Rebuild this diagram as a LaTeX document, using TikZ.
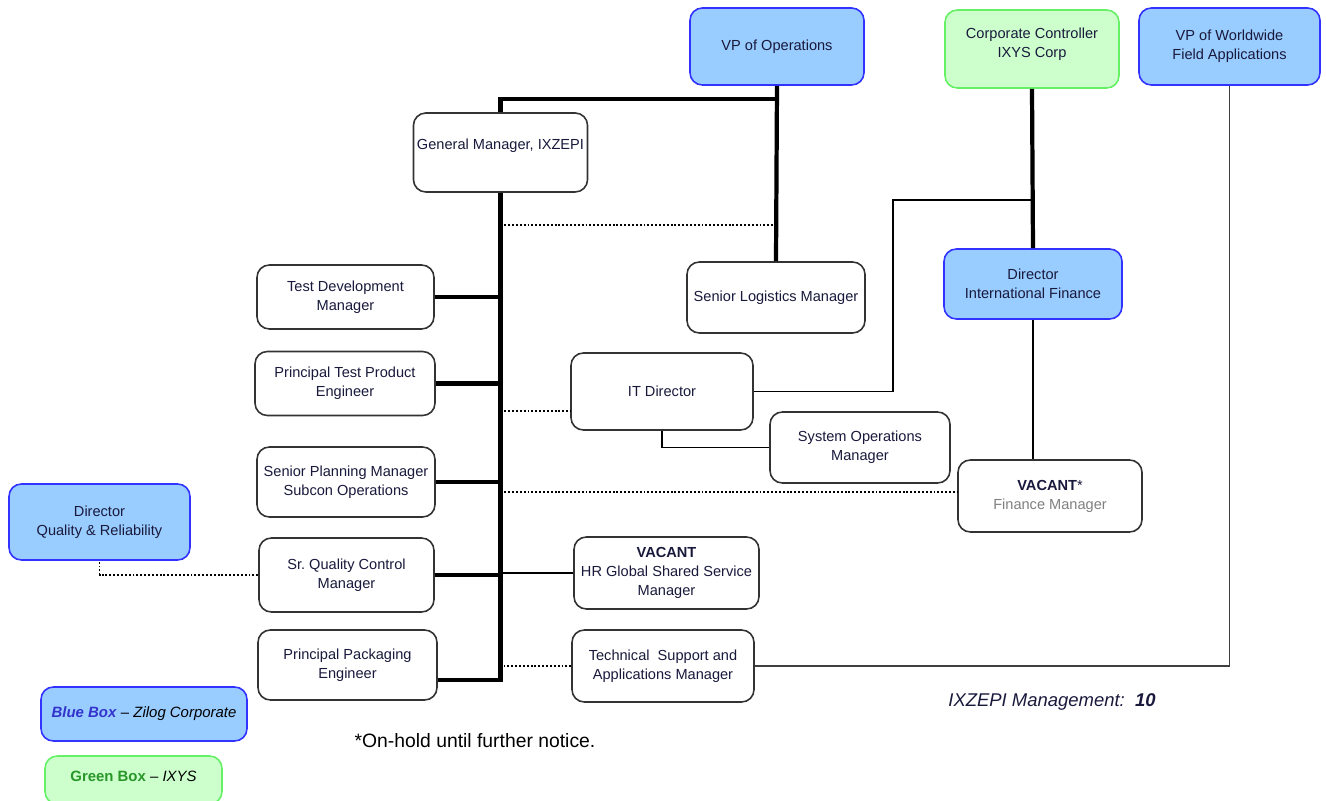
\documentclass[tikz,border=0pt]{standalone}
\usepackage{fontspec}
\setmainfont{Liberation Sans}
\usetikzlibrary{positioning}

\definecolor{zilogblue}{RGB}{153,204,255}
\definecolor{zilogedge}{RGB}{51,51,255}
\definecolor{ixysgreen}{RGB}{204,255,204}
\definecolor{ixysedge}{RGB}{102,240,102}
\definecolor{ink}{RGB}{25,25,60}
\definecolor{legendblue}{RGB}{51,51,204}
\definecolor{legendgreen}{RGB}{40,150,40}

\begin{document}
\begin{tikzpicture}[
    x=0.2mm,
    y=-0.2mm,
    font=\fontsize{8.3}{10.8}\selectfont,
    post/.style={draw=black!80, line width=0.9pt, rounded corners=7pt,
                 fill=white, align=center, text=ink, inner sep=2pt},
    zilog/.style={post, draw=zilogedge, fill=zilogblue},
    ixys/.style={post, draw=ixysedge, fill=ixysgreen},
    size/.style 2 args={minimum width=#1*0.2mm, minimum height=#2*0.2mm},
    reportline/.style={line width=2.4pt},
    midline/.style={line width=1.5pt},
    thinline/.style={line width=1.1pt},
    hairline/.style={line width=0.85pt, black!75},
    dotline/.style={line width=1.1pt, dash pattern=on 1.1pt off 1.1pt},
]
    \useasboundingbox (0,0) rectangle (1326,801);

    \node[zilog, size={174}{77}] (vpops) at (777,46.5)   {VP of Operations};
    \node[ixys,  size={174}{78}] (ctrl)  at (1032,49)    {Corporate Controller\\IXYS Corp\\[-4pt]\mbox{}};
    \node[zilog, size={181}{77}] (vpww)  at (1229.5,46.5) {VP of Worldwide\\Field Applications};

    \node[post, size={173}{79}, text depth=9pt] (gm) at (500.5,152.5) {General Manager, IXZEPI};

    \node[post, size={177}{64}] (tdm)  at (345.5,297)   {Test Development\\Manager};
    \node[post, size={180}{64}] (ptpe) at (345,383.5)   {Principal Test Product\\Engineer};
    \node[post, size={178}{70}] (spm)  at (346,482)     {Senior Planning Manager\\Subcon Operations};
    \node[post, size={175}{74}] (sqcm) at (346.5,575)   {Sr.\ Quality Control\\Manager};
    \node[post, size={179}{70}] (ppe)  at (347.5,665)   {Principal Packaging\\Engineer};

    \node[zilog, size={181}{76}] (dqr) at (99.5,522)    {Director\\Quality \& Reliability};

    \node[post, size={178}{71}] (slm)  at (776,297.5)   {Senior Logistics Manager};
    \node[post, size={182}{77}] (itd)  at (662,391.5)   {IT Director};
    \node[post, size={180}{71}] (som)  at (860,447.5)   {System Operations\\Manager};
    \node[zilog, size={178}{70}] (dif) at (1033,284)    {Director\\International Finance};
    \node[post, size={184}{72}] (fm)   at (1050,496)    {\textbf{VACANT}*\\\textcolor{black!50}{Finance Manager}};
    \node[post, size={185}{72}] (hr)   at (666.5,573)   {\textbf{VACANT}\\HR Global Shared Service\\Manager};
    \node[post, size={182}{72}] (tsam) at (663,666)     {Technical\ \ Support and\\Applications Manager};

    \node[zilog, size={206}{54}, font=\fontsize{8.5}{10}\selectfont] (legblue) at (144,714)
        {\textcolor{legendblue}{\textbf{\textit{Blue Box}}}\ \textcolor{black}{-- \textit{Zilog Corporate}}};
    \node[ixys, size={177}{48}, font=\fontsize{8.5}{10}\selectfont, text depth=4pt] (leggreen) at (133.5,780)
        {\textcolor{legendgreen}{\textbf{Green Box}}\ \textcolor{black}{-- \textit{IXYS}}};

    \node[font=\fontsize{11}{13}\selectfont] (note)  at (475,741)  {*On-hold until further notice.};
    \node[font=\fontsize{10.5}{13}\selectfont\itshape, text=ink] (count) at (1052,702)
        {IXZEPI Management:\ \ \textbf{10}};

    \coordinate (opsbus)   at (777,99);
    \coordinate (trunkend) at (500.5,680);
    \coordinate (itbend)   at (893,200);

    \draw[reportline] (vpops.south) -- (slm.north);
    \draw[reportline] (opsbus) -| (gm.north);
    \draw[reportline] (gm.south) -- (trunkend) -- (trunkend -| ppe.east);
    \foreach \n in {tdm, ptpe, spm, sqcm}
        \draw[reportline] (\n.east) -- (\n.east -| gm.south);

    \draw[dotline] (gm.south |- 0,225) -- (slm.north |- 0,225);
    \draw[dotline] (gm.south |- 0,411) -- (itd.west |- 0,411);
    \draw[dotline] (gm.south |- 0,492) -- (fm.west |- 0,492);
    \draw[dotline] (tsam.west) -- (tsam.west -| gm.south);
    \draw[dotline, line width=0.9pt] (sqcm.west) -| (dqr.south);
    \draw[thinline] (hr.west) -- (hr.west -| gm.south);

    \draw[reportline] (ctrl.south) -- (dif.north);
    \draw[thinline] (itd.east) -| (itbend) -- (itbend -| ctrl.south);
    \draw[thinline] (itd.south) |- (som.west);
    \draw[midline] (dif.south) -- (dif.south |- fm.north);
    \draw[hairline] (vpww.south) |- (tsam.east);
\end{tikzpicture}
\end{document}
